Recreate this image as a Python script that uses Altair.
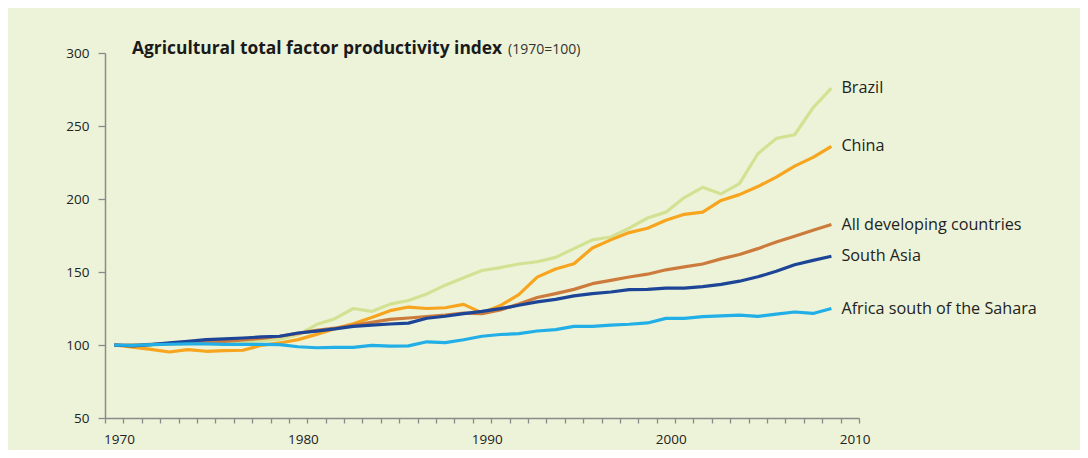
import altair as alt
import pandas as pd

years = list(range(1970, 2010))

brazil = [100, 99.5, 100, 100.5, 101, 101.5, 101, 102, 103, 104,
          107, 114, 118, 125, 123, 128, 130.5, 135, 141, 146,
          151, 153, 155.5, 157, 160, 166, 172, 174, 180, 187,
          191, 201, 208, 203.5, 210.5, 231, 241.5, 244, 262.5, 276]
china = [100, 98.5, 97, 95.2, 96.8, 95.7, 96.2, 96.4, 99.8, 101.4,
         103.7, 107.3, 111.2, 114.6, 118.8, 123.5, 126, 125, 125.5, 127.8,
         122, 127, 134.5, 146.5, 152, 155.7, 166.4, 172, 177, 180,
         185.4, 189.5, 191, 199, 203, 208.5, 215, 222.5, 228.5, 236]
all_dev = [100, 100, 100.5, 101, 101.5, 102, 102.5, 103.5, 104.5, 106,
           108, 110, 111.5, 113.5, 115.5, 117.5, 118.5, 119.5, 120.5, 121.8,
           121.5, 124, 128, 132.5, 135.2, 138.1, 142, 144.3, 146.6, 148.5,
           151.5, 153.5, 155.5, 159, 162, 166, 170.5, 174.5, 178.6, 182.5]
south_asia = [100, 99.3, 100.3, 101.4, 102.5, 103.7, 104.2, 104.8, 105.5, 106,
              108.2, 109.5, 111, 112.8, 113.6, 114.4, 115, 118.3, 119.7, 121.5,
              123, 124.9, 127.2, 129.5, 131.3, 133.6, 135.2, 136.3, 137.9, 138.1,
              139, 139, 140, 141.5, 143.7, 146.7, 150.5, 155, 158, 160.8]
africa = [100, 99.8, 100.2, 100.5, 100.8, 100.8, 100.4, 100.4, 100.4, 100.3,
          98.8, 98.1, 98.4, 98.4, 99.8, 99.2, 99.4, 102.2, 101.6, 103.6,
          106, 107.2, 107.8, 109.6, 110.5, 112.8, 112.8, 113.6, 114.2, 115.1,
          118.2, 118.3, 119.4, 119.9, 120.5, 119.6, 121.2, 122.6, 121.6, 125]

series_names = ["Brazil", "China", "All developing countries", "South Asia",
                "Africa south of the Sahara"]
series_values = [brazil, china, all_dev, south_asia, africa]
series_colors = ["#D3E193", "#F7A41F", "#CC7B3C", "#1D4597", "#22AEE6"]

y_ticks = [50, 100, 150, 200, 250, 300]
x_tick_years = [y + 0.5 for y in range(1969, 2011)]

title_main = "Agricultural total factor productivity index"
title_sub = "(1970=100)"

rows = []
for order, (name, vals) in enumerate(zip(series_names, series_values)):
    for yr, v in zip(years, vals):
        rows.append({"year": yr, "value": v, "series": name, "order": order})
df = pd.DataFrame(rows)
last = df[df["year"] == years[-1]]

FONT = "Open Sans"

x_scale = alt.Scale(domain=[1969.5, 2010.5], nice=False, zero=False)
y_scale = alt.Scale(domain=[50, 300], nice=False, zero=False)
color_scale = alt.Scale(domain=series_names, range=series_colors)

x_axis = alt.Axis(values=x_tick_years, tickCount=100, title=None, grid=False,
                  labelExpr="((datum.value + 0.5) % 10 == 0) ? format(datum.value + 0.5, 'd') : ''",
                  labelOffset=14, labelOverlap=False, labelFlush=False,
                  tickSize=5, labelPadding=9)
y_axis = alt.Axis(values=y_ticks, tickCount=10, title=None, grid=False, tickSize=7,
                  labelPadding=9)

lines = alt.Chart(df).mark_line(strokeWidth=3.2, strokeJoin="round").encode(
    x=alt.X("year:Q", scale=x_scale, axis=x_axis),
    y=alt.Y("value:Q", scale=y_scale, axis=y_axis),
    color=alt.Color("series:N", scale=color_scale, legend=None),
    order=alt.Order("order:Q"),
    detail="order:Q",
)

labels = alt.Chart(last).mark_text(align="left", baseline="middle", dx=10,
                                   font=FONT, fontSize=16.2, color="#222222").encode(
    x=alt.X("year:Q", scale=x_scale),
    y=alt.Y("value:Q", scale=y_scale),
    text="series:N",
)

t1 = alt.Chart(pd.DataFrame({"t": [title_main]})).mark_text(
    align="left", baseline="alphabetic", font=FONT, fontSize=17.4,
    fontWeight="bold", color="#1a1a1a").encode(
    x=alt.value(27), y=alt.value(1), text="t:N")
t2 = alt.Chart(pd.DataFrame({"t": [title_sub]})).mark_text(
    align="left", baseline="alphabetic", font=FONT, fontSize=14,
    color="#333333").encode(
    x=alt.value(403), y=alt.value(1), text="t:N")

chart = alt.layer(lines, labels, t1, t2).properties(
    width=754, height=365,
    padding={"left": 97, "top": 45, "right": 221, "bottom": 32},
    autosize=alt.AutoSizeParams(type="none"),
    background="#EDF3D8",
).configure_view(strokeWidth=0).configure_axis(
    domainColor="#8A8A8A", domainWidth=1.5, tickColor="#8A8A8A", tickWidth=1.3,
    labelFont=FONT, labelFontSize=13.5, labelColor="#222222",
)

chart.save("out.html", embed_options={"renderer": "svg", "actions": False})
